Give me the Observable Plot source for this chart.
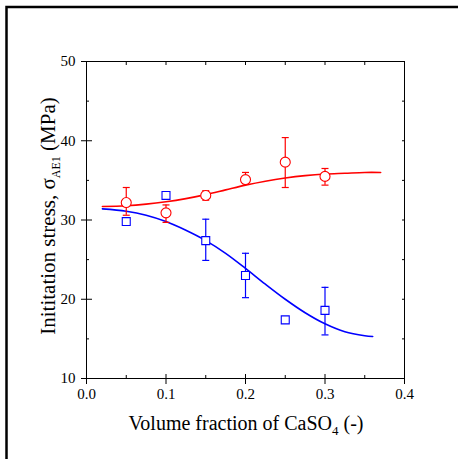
<!DOCTYPE html>
<html><head><meta charset="utf-8">
<script src="https://cdn.jsdelivr.net/npm/d3@7"></script>
<script src="https://cdn.jsdelivr.net/npm/@observablehq/plot@0.6"></script>
<style>body{margin:0;background:#fff}svg{display:block}svg text{font-family:'Liberation Serif','Times New Roman',serif !important}</style>
</head><body><div id="chart"></div>
<script>
// Measured data: red circles
const fracA = [0.05, 0.10, 0.15, 0.20, 0.25, 0.30];
const stressA = [32.2, 30.9, 33.1, 35.1, 37.3, 35.5];
const errLoA = [30.6, 29.7, 32.5, 34.6, 34.1, 34.4];
const errHiA = [34.1, 31.9, 33.7, 36.0, 40.4, 36.5];
// Blue squares
const fracB = [0.05, 0.10, 0.15, 0.20, 0.25, 0.30];
const stressB = [29.8, 33.1, 27.4, 23.0, 17.4, 18.6];
const errLoB = [null, null, 24.9, 20.2, null, 15.5];
const errHiB = [null, null, 30.1, 25.8, null, 21.5];
// Fitted curves
const fitXA = [0.02, 0.05, 0.075, 0.10, 0.125, 0.15, 0.175, 0.20, 0.225, 0.25, 0.275, 0.30, 0.325, 0.35, 0.37];
const fitYA = [31.7, 31.8, 32.0, 32.3, 32.7, 33.2, 33.8, 34.4, 34.9, 35.3, 35.6, 35.8, 35.9, 36.0, 36.0];
const fitXB = [0.02, 0.05, 0.075, 0.10, 0.125, 0.15, 0.175, 0.20, 0.225, 0.25, 0.275, 0.30, 0.325, 0.35, 0.36];
const fitYB = [31.4, 31.1, 30.6, 29.8, 28.7, 27.4, 25.8, 23.9, 21.9, 20.0, 18.3, 16.9, 15.9, 15.4, 15.3];
// Ticks
const xMajor = [0, 0.1, 0.2, 0.3, 0.4];
const xMinor = [0.05, 0.15, 0.25, 0.35];
const yMajor = [10, 20, 30, 40, 50];
const yMinor = [15, 25, 35, 45];
const xTickLabels = ["0.0", "0.1", "0.2", "0.3", "0.4"];

const red = "#ff0000", blue = "#0000ff";
const ptsA = fracA.map((x, i) => ({x, y: stressA[i], lo: errLoA[i], hi: errHiA[i]}));
const ptsB = fracB.map((x, i) => ({x, y: stressB[i], lo: errLoB[i], hi: errHiB[i]}));
const errB = ptsB.filter(d => d.lo != null);
const fitA = fitXA.map((x, i) => ({x, y: fitYA[i]}));
const fitB = fitXB.map((x, i) => ({x, y: fitYB[i]}));
const cap = {draw(ctx, size) { const r = Math.sqrt(size / Math.PI); ctx.moveTo(-r, 0); ctx.lineTo(r, 0); }};
const font = "'Liberation Serif', 'Times New Roman', serif";
const ax = {fontSize: 15, label: null};

const svg = Plot.plot({
  width: 458, height: 459,
  marginLeft: 86, marginRight: 54, marginTop: 61, marginBottom: 81,
  style: {fontFamily: font, fontSize: "15px", color: "#000", background: "#fff"},
  x: {domain: [0, 0.4]},
  y: {domain: [10, 50]},
  marks: [
    Plot.frame({stroke: "#000", strokeWidth: 1}),
    Plot.axisX(xMajor, {...ax, anchor: "bottom", tickSize: 10, dy: -4, tickPadding: 4, tickFormat: (d, i) => xTickLabels[i]}),
    Plot.axisX(xMinor, {...ax, anchor: "bottom", tickSize: 3, dy: -3, tickFormat: () => ""}),
    Plot.axisX([...xMajor, ...xMinor], {...ax, anchor: "top", tickSize: 3, dy: 3, tickFormat: () => ""}),
    Plot.axisY(yMajor, {...ax, anchor: "left", tickSize: 11, dx: 6, tickPadding: 6}),
    Plot.axisY(yMinor, {...ax, anchor: "left", tickSize: 3, dx: 3, tickFormat: () => ""}),
    Plot.axisY([...yMajor, ...yMinor], {...ax, anchor: "right", tickSize: 3, dx: -3, tickFormat: () => ""}),
    Plot.line(fitA, {x: "x", y: "y", stroke: red, strokeWidth: 1.6, curve: "catmull-rom"}),
    Plot.line(fitB, {x: "x", y: "y", stroke: blue, strokeWidth: 1.6, curve: "catmull-rom"}),
    Plot.ruleX(ptsA, {x: "x", y1: "lo", y2: "hi", stroke: red, strokeWidth: 1.2}),
    Plot.dot(ptsA, {x: "x", y: "lo", symbol: cap, r: 3.5, stroke: red, strokeWidth: 1.2}),
    Plot.dot(ptsA, {x: "x", y: "hi", symbol: cap, r: 3.5, stroke: red, strokeWidth: 1.2}),
    Plot.ruleX(errB, {x: "x", y1: "lo", y2: "hi", stroke: blue, strokeWidth: 1.2}),
    Plot.dot(errB, {x: "x", y: "lo", symbol: cap, r: 3.5, stroke: blue, strokeWidth: 1.2}),
    Plot.dot(errB, {x: "x", y: "hi", symbol: cap, r: 3.5, stroke: blue, strokeWidth: 1.2}),
    Plot.dot(ptsA, {x: "x", y: "y", symbol: "circle", r: 5, stroke: red, fill: "#fff", strokeWidth: 1.1}),
    Plot.dot(ptsB, {x: "x", y: "y", symbol: "square", r: 4.5, stroke: blue, fill: "#fff", strokeWidth: 1.1})
  ]
});

const s = d3.select(svg);
s.selectAll("text").style("font-family", font);
// outer border (top and left)
s.append("path").attr("d", "M6.5,459V7H458").attr("fill", "none").attr("stroke", "#000").attr("stroke-width", 2.5);
// x axis label
const xl = s.append("text").attr("x", 246).attr("y", 430).attr("text-anchor", "middle")
  .style("font-family", font).attr("font-size", 20).attr("fill", "#000");
xl.append("tspan").text("Volume fraction of CaSO");
xl.append("tspan").attr("font-size", 13).attr("dy", 5).text("4");
xl.append("tspan").attr("dy", -5).text(" (-)");
// y axis label
const yl = s.append("text").attr("transform", "translate(55,216) rotate(-90)").attr("text-anchor", "middle")
  .style("font-family", font).attr("font-size", 21).attr("fill", "#000");
yl.append("tspan").text("Inititation stress, σ");
yl.append("tspan").attr("font-size", 12).attr("dy", 5).text("AE1");
yl.append("tspan").attr("dy", -5).text(" (MPa)");

document.getElementById("chart").appendChild(svg);
</script></body></html>
